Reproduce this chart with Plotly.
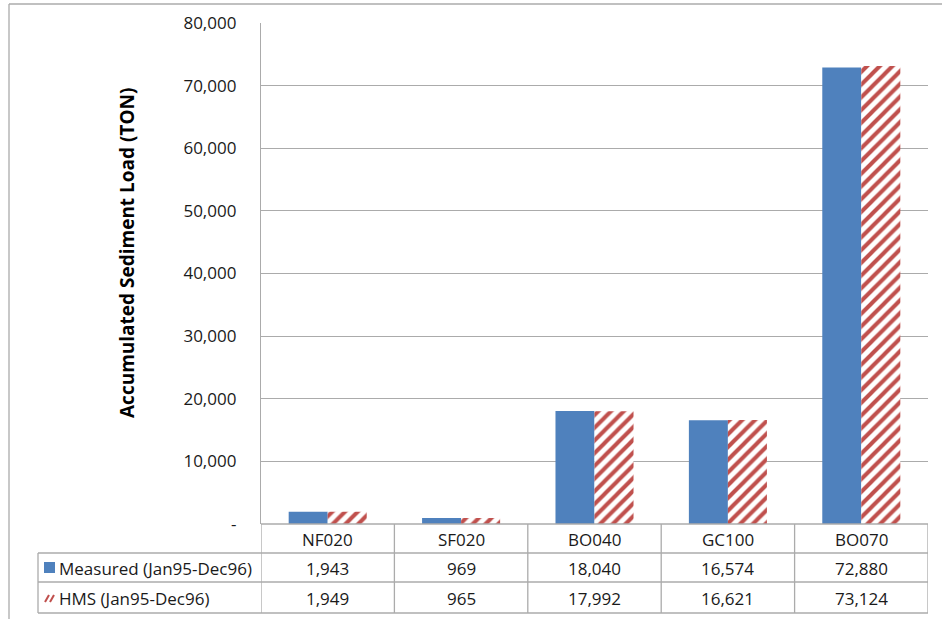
import plotly.graph_objects as go

categories = ["NF020", "SF020", "BO040", "GC100", "BO070"]
measured = [1943, 969, 18040, 16574, 72880]
hms = [1949, 965, 17992, 16621, 73124]
series_names = ["Measured (Jan95-Dec96)", "HMS (Jan95-Dec96)"]
tick_vals = [0, 10000, 20000, 30000, 40000, 50000, 60000, 70000, 80000]
tick_text = ["-", "10,000", "20,000", "30,000", "40,000", "50,000", "60,000", "70,000", "80,000"]

BLUE = "#4F81BD"
RED = "#C0504D"
GRID = "#ABABAB"
FONT = "Open Sans"
TXT = "#1a1a1a"

W, H = 942, 619
L, T = 261, 23
R = W - 928
B = H - 524
pw, ph = W - L - R, H - T - B

def py(pix):
    return (524 - pix) / ph

def px(pix):
    return (pix - 261) / pw

fig = go.Figure()
fig.add_bar(x=categories, y=measured, name=series_names[0], marker=dict(color=BLUE, line=dict(width=0)))
fig.add_bar(x=categories, y=hms, name=series_names[1],
            marker=dict(color="white", line=dict(width=0),
                        pattern=dict(shape="/", fgcolor=RED, bgcolor="white", size=9, solidity=0.45,
                                     fgopacity=1)))

shapes = []
ann = []
line = dict(color=GRID, width=1.3)
# outer chart border (left/top)
shapes.append(dict(type="line", xref="paper", yref="paper", x0=px(9), x1=px(950), y0=py(4), y1=py(4), line=line))
shapes.append(dict(type="line", xref="paper", yref="paper", x0=px(9), x1=px(9), y0=py(4), y1=py(630), line=line))

rows_y = [524, 553, 582, 613]
for yy in rows_y[1:]:
    shapes.append(dict(type="line", xref="paper", yref="paper", x0=px(38), x1=1, y0=py(yy), y1=py(yy), line=line))
shapes.append(dict(type="line", xref="paper", yref="paper", x0=0, x1=1, y0=py(524), y1=py(524), line=line))
shapes.append(dict(type="line", xref="paper", yref="paper", x0=px(38), x1=px(38), y0=py(553), y1=py(613), line=line))
for i in range(len(categories) + 1):
    shapes.append(dict(type="line", xref="x", yref="paper", x0=i - 0.5, x1=i - 0.5, y0=py(524), y1=py(613), line=line))

tf = dict(family=FONT, size=17, color=TXT)
for i, c in enumerate(categories):
    ann.append(dict(x=i, y=py(539), xref="x", yref="paper", text=c, showarrow=False, font=tf,
                    xanchor="center", yanchor="middle"))
    ann.append(dict(x=i, y=py(568), xref="x", yref="paper", text=f"{measured[i]:,}", showarrow=False, font=tf,
                    xanchor="center", yanchor="middle"))
    ann.append(dict(x=i, y=py(598), xref="x", yref="paper", text=f"{hms[i]:,}", showarrow=False, font=tf,
                    xanchor="center", yanchor="middle"))

ann.append(dict(x=px(57), y=py(568), xref="paper", yref="paper", text=series_names[0], showarrow=False,
                xanchor="left", yanchor="middle", font=tf))
ann.append(dict(x=px(57), y=py(598), xref="paper", yref="paper", text=series_names[1], showarrow=False,
                xanchor="left", yanchor="middle", font=tf))
# legend keys
shapes.append(dict(type="rect", xref="paper", yref="paper", x0=px(44), x1=px(55), y0=py(573), y1=py(562),
                   fillcolor=BLUE, line=dict(width=0)))
for dx in (0, 5):
    shapes.append(dict(type="line", xref="paper", yref="paper", x0=px(45 + dx), x1=px(49 + dx),
                       y0=py(602), y1=py(595), line=dict(color=RED, width=2)))

ann.append(dict(x=px(127), y=py(253), xref="paper", yref="paper", text="<b>Accumulated Sediment Load (TON)</b>",
                textangle=-90, showarrow=False, xanchor="center", yanchor="middle",
                font=dict(family=FONT, size=19, color="#000")))

fig.update_layout(
    width=W, height=H, margin=dict(l=L, r=R, t=T, b=B, autoexpand=False),
    paper_bgcolor="white", plot_bgcolor="white",
    barmode="group", bargap=0.415, bargroupgap=0,
    showlegend=False, shapes=shapes, annotations=ann,
    font=dict(family=FONT, size=17, color=TXT),
)
fig.update_xaxes(showticklabels=False, showgrid=False, zeroline=False, showline=False, ticks="",
                 range=[-0.5, 4.5])
fig.update_yaxes(range=[0, 80000], tickvals=tick_vals, ticktext=tick_text, showgrid=True, gridcolor=GRID,
                 gridwidth=1.3, zeroline=False, showline=True, linecolor=GRID, linewidth=1.3,
                 ticklabelstandoff=20, tickfont=dict(family=FONT, size=17, color=TXT))

fig.write_html("out.html", config={"displayModeBar": False},
               post_script="document.body.style.margin='0';document.body.style.overflow='hidden';")
